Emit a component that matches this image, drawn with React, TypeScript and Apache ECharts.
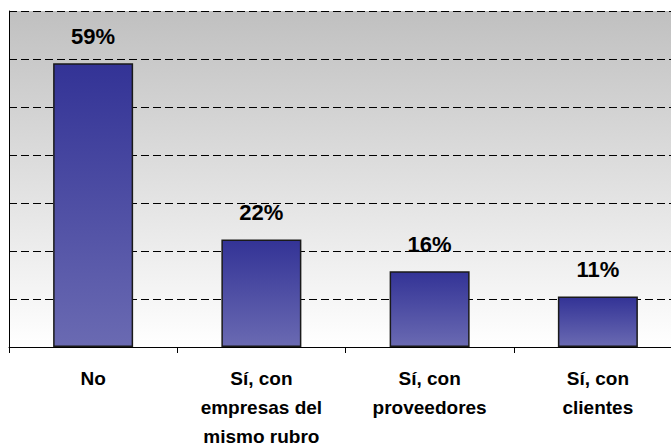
import React, { useEffect, useRef } from "react";
import * as echarts from "echarts";

const categories: string[] = [
  "No",
  "Sí, con\nempresas del\nmismo rubro",
  "Sí, con\nproveedores",
  "Sí, con\nclientes",
];
const values: number[] = [59.1, 22.4, 15.8, 10.5];
const yTicks = { min: 0, max: 70, interval: 10 };

export default function App() {
  const ref = useRef<HTMLDivElement>(null);
  useEffect(() => {
    if (!ref.current) return;
    const chart = echarts.init(ref.current, null, { renderer: "svg" });
    const font = "Arial, 'Liberation Sans', sans-serif";
    chart.setOption({
      animation: false,
      grid: {
        left: 9,
        top: 11,
        width: 673,
        height: 336,
        containLabel: false,
        outerBoundsMode: "none",
        show: true,
        borderWidth: 0,
        backgroundColor: {
          type: "linear",
          x: 0,
          y: 0,
          x2: 0,
          y2: 1,
          colorStops: [
            { offset: 0, color: "#c0c0c0" },
            { offset: 1, color: "#ffffff" },
          ],
        },
      },
      xAxis: {
        type: "category",
        data: categories,
        boundaryGap: true,
        axisLine: { show: true, lineStyle: { color: "#000", width: 1 } },
        axisTick: { show: true, length: 6, alignWithLabel: false, lineStyle: { color: "#000" } },
        axisLabel: {
          interval: 0,
          margin: 17,
          color: "#000",
          fontFamily: font,
          fontWeight: "bold",
          fontSize: 19,
          lineHeight: 29,
          verticalAlign: "top",
        },
      },
      yAxis: {
        type: "value",
        min: yTicks.min,
        max: yTicks.max,
        interval: yTicks.interval,
        axisLine: { show: true, lineStyle: { color: "#000", width: 1 } },
        axisTick: { show: false },
        axisLabel: { show: false },
        splitLine: {
          show: true,
          lineStyle: { color: "#000", width: 1, type: [8, 4] },
        },
      },
      series: [
        {
          type: "bar",
          data: values,
          barWidth: 80,
          itemStyle: {
            color: {
              type: "linear",
              x: 0,
              y: 0,
              x2: 0,
              y2: 1,
              colorStops: [
                { offset: 0, color: "#333396" },
                { offset: 1, color: "#6a6ab2" },
              ],
            },
            borderColor: "#1a1a1a",
            borderWidth: 1.5,
          },
          label: {
            show: true,
            position: "top",
            distance: 16,
            color: "#000",
            fontFamily: font,
            fontWeight: "bold",
            fontSize: 22,
            formatter: (p: any) => Math.round(p.value) + "%",
          },
        },
      ],
    });
    return () => chart.dispose();
  }, []);
  return (
    <div
      ref={ref}
      style={{ width: 671, height: 446, position: "absolute", left: 0, top: 0 }}
    />
  );
}
